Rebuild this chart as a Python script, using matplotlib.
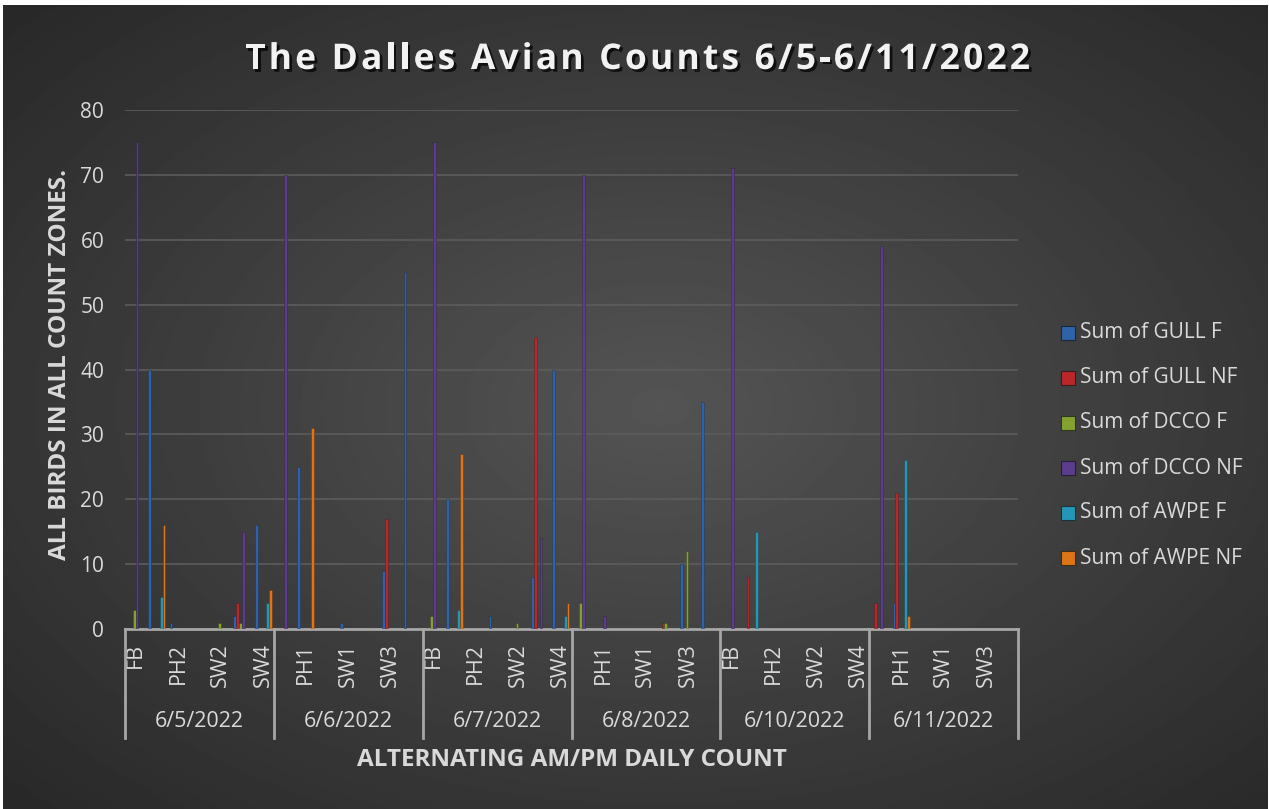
import numpy as np
import matplotlib
matplotlib.use("Agg")
import matplotlib.pyplot as plt
import matplotlib.patheffects as pe
from matplotlib.patches import Rectangle
import matplotlib.transforms as mtransforms
from matplotlib.font_manager import findfont, FontProperties
from matplotlib.ft2font import FT2Font

plt.rcParams['font.family'] = ['Open Sans', 'DejaVu Sans']

# categories: 6 dates x 7 count zones
dates = ['6/5/2022', '6/6/2022', '6/7/2022', '6/8/2022', '6/10/2022', '6/11/2022']
zones = ['FB', 'PH1', 'PH2', 'SW1', 'SW2', 'SW3', 'SW4']

series_names = ['Sum of GULL F', 'Sum of GULL NF', 'Sum of DCCO F',
                'Sum of DCCO NF', 'Sum of AWPE F', 'Sum of AWPE NF']
colors = ['#2f62a6', '#b8282b', '#84a232', '#5b3d8c', '#2596b5', '#de7418']

gull_f = [0, 40, 1, 0, 0, 2, 16,
          0, 25, 0, 1, 0, 9, 55,
          0, 20, 0, 2, 0, 8, 40,
          0, 0, 0, 0, 0, 10, 35,
          0, 0, 0, 0, 0, 0, 0,
          0, 4, 0, 0, 0, 0, 0]
gull_nf = [0, 0, 0, 0, 0, 4, 0,
           0, 0, 0, 0, 0, 17, 0,
           0, 0, 0, 0, 0, 45, 0,
           0, 0, 0, 0, 1, 0, 0,
           0, 8, 0, 0, 0, 0, 0,
           4, 21, 0, 0, 0, 0, 0]
dcco_f = [3, 0, 0, 0, 1, 1, 0,
          0, 0, 0, 0, 0, 0, 0,
          2, 0, 0, 0, 1, 0, 0,
          4, 0, 0, 0, 1, 12, 0,
          0, 0, 0, 0, 0, 0, 0,
          0, 0, 0, 0, 0, 0, 0]
dcco_nf = [75, 0, 0, 0, 0, 15, 0,
           70, 0, 0, 0, 0, 0, 0,
           75, 0, 0, 0, 0, 14, 0,
           70, 2, 0, 0, 0, 0, 0,
           71, 0, 0, 0, 0, 0, 0,
           59, 0, 0, 0, 0, 0, 0]
awpe_f = [0, 5, 0, 0, 0, 0, 4,
          0, 0, 0, 0, 0, 0, 0,
          0, 3, 0, 0, 0, 0, 2,
          0, 0, 0, 0, 0, 0, 0,
          0, 15, 0, 0, 0, 0, 0,
          0, 26, 0, 0, 0, 0, 0]
awpe_nf = [0, 16, 0, 0, 0, 0, 6,
           0, 31, 0, 0, 0, 0, 0,
           0, 27, 0, 0, 0, 0, 4,
           0, 0, 0, 0, 0, 0, 0,
           0, 0, 0, 0, 0, 0, 0,
           0, 2, 0, 0, 0, 0, 0]
series = [gull_f, gull_nf, dcco_f, dcco_nf, awpe_f, awpe_nf]

title = 'The Dalles Avian Counts 6/5-6/11/2022'
txt = '#d9d9d9'

W, H = 1269, 809
fig = plt.figure(figsize=(W / 100, H / 100), dpi=100, facecolor='white')

# dark radial background
bg = fig.add_axes([3 / W, 0, (W - 4) / W, (H - 5) / H], zorder=-10)
yy, xx = np.mgrid[0:1:400j, 0:1:600j]
r = np.sqrt(((xx - 0.52) / 0.75) ** 2 + ((yy - 0.5) / 0.75) ** 2)
r = np.clip(r, 0, 1)
shade = 0.33 - (0.33 - 0.15) * r
bg.imshow(shade, cmap='gray', vmin=0, vmax=1, aspect='auto', extent=[0, 1, 0, 1])
bg.axis('off')

ax = fig.add_axes([125 / W, 1 - 629 / H, (1018 - 125) / W, (629 - 110) / H])
ax.patch.set_alpha(0)

n = len(gull_f)
x = np.arange(n)
bw = 1 / 7.5
for k, (vals, c) in enumerate(zip(series, colors)):
    ax.bar(x + (k - 2.5) * bw, vals, width=bw, color=c, edgecolor='#00000055',
           linewidth=0.4, label=series_names[k], zorder=3)

ax.set_xlim(-0.5, n - 0.5)
ax.set_ylim(0, 80)
ax.set_yticks(range(0, 81, 10))
ax.grid(axis='y', color='#5c5c5c', linewidth=1.2, zorder=0)
for s in ['top', 'right', 'left']:
    ax.spines[s].set_visible(False)
ax.spines['bottom'].set_color('#a6a6a6')
ax.spines['bottom'].set_linewidth(2)
ax.tick_params(axis='y', length=0, pad=15, labelsize=15, labelcolor=txt)

# zone labels (every other one shown)
ticks = list(range(0, n, 2))
labels = [zones[i % 7] for i in ticks]
ax.set_xticks(ticks)
ax.set_xticklabels(labels, rotation=90, fontsize=15.5, color=txt, va='top')
ax.tick_params(axis='x', length=0, pad=10)

# date group labels and separators
trans = mtransforms.blended_transform_factory(ax.transData, ax.transAxes)
for g in range(len(dates) + 1):
    xs = g * 7 - 0.5
    ax.plot([xs, xs], [0, -0.21], transform=trans, color='#a6a6a6', lw=2,
            clip_on=False, zorder=4)
for g, d in enumerate(dates):
    ax.text(g * 7 + 3, -0.179, d, transform=trans, ha='center', va='center',
            fontsize=15.5, color=txt)

ax.text(0.5, -0.252, 'ALTERNATING AM/PM DAILY COUNT', transform=ax.transAxes,
        ha='center', va='center', fontsize=17.5, fontweight='bold', color=txt)
ax.text(-0.0728, 0.51, 'ALL BIRDS IN ALL COUNT ZONES.', transform=ax.transAxes,
        rotation=90, ha='center', va='center', fontsize=17.5, fontweight='bold',
        color=txt)

# spaced-out title, one glyph at a time
tsize = 25.5
fp = FontProperties(family='Open Sans', weight='bold', size=tsize)
font = FT2Font(findfont(fp))
font.set_size(tsize, 100)
adv = []
for ch in title:
    g = font.load_char(ord(ch))
    adv.append(g.linearHoriAdvance / 65536)
target = 785
gap = (target - sum(adv)) / (len(title) - 1)
xpos = 637.5 - target / 2
shadow = [pe.withSimplePatchShadow(offset=(2, -2), shadow_rgbFace='black', alpha=0.7)]
for ch, a in zip(title, adv):
    if ch != ' ':
        fig.text(xpos / W, 1 - 60 / H, ch, ha='left', va='center', fontproperties=fp,
                 color='#f2f2f2', path_effects=shadow)
    xpos += a + gap

# legend drawn by hand
for i, (name, c) in enumerate(zip(series_names, colors)):
    yc = 333 + 45 * i
    fig.patches.append(Rectangle((1061 / W, 1 - (yc + 7) / H), 14 / W, 14 / H,
                                 transform=fig.transFigure, facecolor=c,
                                 edgecolor='#00000080', linewidth=0.8))
    fig.text(1080 / W, 1 - yc / H, name, ha='left', va='center', fontsize=15,
             color=txt)

fig.savefig('out.png', dpi=100, facecolor='white')
